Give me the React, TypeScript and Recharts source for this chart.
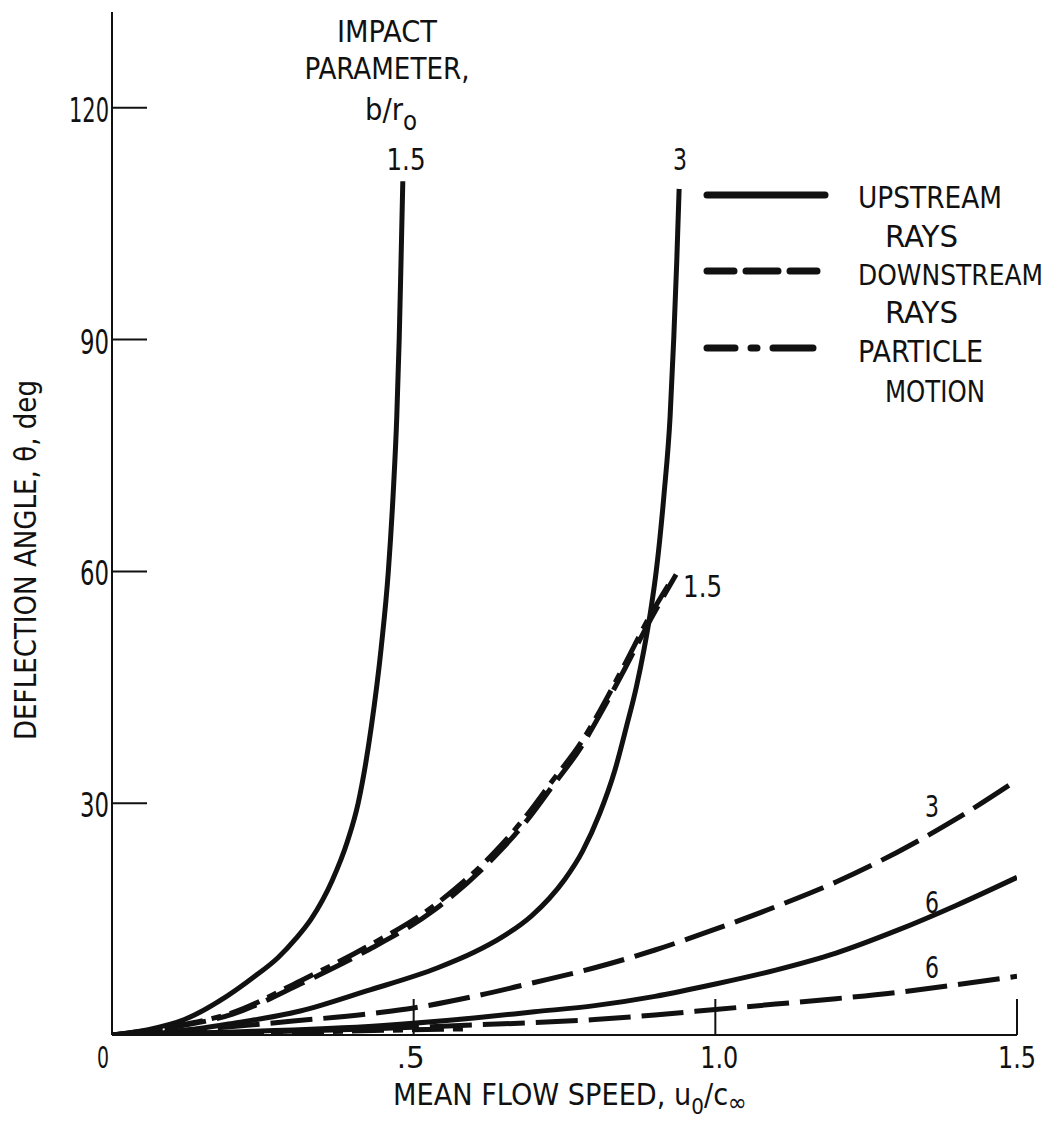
import React from 'react';
import { LineChart, Line, XAxis, YAxis, ReferenceDot, Legend } from 'recharts';

const INK = '#111';
const FONT = "'DejaVu Sans Condensed', 'Liberation Sans Narrow', 'DejaVu Sans', sans-serif";

// Axis ticks
const xTickValues = [0, 0.5, 1.0, 1.5];
const xTickLabels = ['0', '.5', '1.0', '1.5'];
const yTickValues = [30, 60, 90, 120];
const yTickLabels = ['30', '60', '90', '120'];

// Upstream rays (solid)
const upstream15U = [0, 0.06, 0.12, 0.19, 0.235, 0.275, 0.305, 0.33, 0.365, 0.39, 0.408, 0.43, 0.446, 0.458, 0.466, 0.472, 0.476, 0.479, 0.482];
const upstream15T = [0, 0.7, 2, 5, 7.5, 10, 12.5, 15, 20, 25, 30, 40, 50, 60, 70, 80, 90, 100, 110.5];
const upstream3U = [0, 0.1, 0.2, 0.312, 0.422, 0.54, 0.6, 0.645, 0.695, 0.725, 0.75, 0.78, 0.808, 0.834, 0.853, 0.869, 0.882, 0.893, 0.902, 0.915, 0.925, 0.931, 0.936, 0.94];
const upstream3T = [0, 0.4, 1.5, 3.1, 5.7, 8.7, 10.7, 12.6, 15.4, 17.7, 20.1, 23.8, 28.6, 34.4, 40, 45, 50, 55, 60, 70, 80, 90, 100, 109.5];
const upstream6U = [0, 0.2, 0.444, 0.6, 0.7, 0.8, 0.9, 1.0, 1.1, 1.2, 1.3, 1.4, 1.5];
const upstream6T = [0, 0.4, 1.2, 2.2, 3.0, 3.8, 5.0, 6.6, 8.4, 10.6, 13.5, 16.8, 20.4];

// Downstream rays (dashed)
const downstream15U = [0, 0.1, 0.2, 0.312, 0.422, 0.533, 0.643, 0.688, 0.73, 0.777, 0.809, 0.85, 0.89, 0.935];
const downstream15T = [0, 1.0, 2.7, 6.6, 10.9, 16.1, 23.8, 27.8, 32.2, 37.2, 41.5, 47.4, 53.4, 59.6];
const downstream3U = [0, 0.1, 0.2, 0.3, 0.444, 0.5, 0.6, 0.7, 0.8, 0.9, 1.0, 1.1, 1.2, 1.3, 1.4, 1.5];
const downstream3T = [0, 0.5, 1.1, 1.8, 2.9, 3.5, 5.0, 6.8, 8.7, 11.0, 13.7, 16.6, 19.8, 23.6, 28.0, 33.0];
const downstream6U = [0, 0.2, 0.444, 0.6, 0.8, 0.9, 1.0, 1.1, 1.2, 1.3, 1.4, 1.5];
const downstream6T = [0, 0.3, 0.85, 1.3, 2.0, 2.6, 3.3, 4.0, 4.7, 5.5, 6.5, 7.6];

// Particle motion (dash-dot)
const particle15U = [0, 0.1, 0.2, 0.312, 0.422, 0.533, 0.643, 0.688, 0.73, 0.777, 0.809, 0.85, 0.89, 0.925];
const particle15T = [0, 1.1, 2.9, 7.0, 11.4, 16.7, 24.4, 28.5, 32.9, 37.8, 42.0, 48.0, 54.0, 58.6];
const particle3U = [0, 0.15, 0.3, 0.45, 0.59];
const particle3T = [0, 0.15, 0.35, 0.6, 0.8];

// Curve labels (impact parameter b/r0)
const curveLabelText = ['1.5', '3', '1.5', '3', '6', '6'];
const curveLabelU = [0.4873, 0.9415, 0.9465, 1.3476, 1.3476, 1.3476];
const curveLabelT = [112.0, 112.0, 56.7, 28.2, 15.8, 7.35];

const zip = (u: number[], t: number[]) => u.map((v, i) => ({ u: v, t: t[i] }));

const DASH = '42 11';
const DASHDOT = '32 9 10 9';

const series = [
  { key: 'up15', name: 'Upstream rays, b/r0 = 1.5', data: zip(upstream15U, upstream15T), dash: undefined as string | undefined },
  { key: 'up3', name: 'Upstream rays, b/r0 = 3', data: zip(upstream3U, upstream3T), dash: undefined },
  { key: 'up6', name: 'Upstream rays, b/r0 = 6', data: zip(upstream6U, upstream6T), dash: undefined },
  { key: 'dn15', name: 'Downstream rays, b/r0 = 1.5', data: zip(downstream15U, downstream15T), dash: DASH },
  { key: 'dn3', name: 'Downstream rays, b/r0 = 3', data: zip(downstream3U, downstream3T), dash: DASH },
  { key: 'dn6', name: 'Downstream rays, b/r0 = 6', data: zip(downstream6U, downstream6T), dash: DASH },
  { key: 'pm15', name: 'Particle motion, b/r0 = 1.5', data: zip(particle15U, particle15T), dash: DASHDOT },
  { key: 'pm3', name: 'Particle motion, b/r0 = 3', data: zip(particle3U, particle3T), dash: DASHDOT },
];

function Txt(props: any) {
  const { x, y, w, size = 31, anchor = 'start', children, transform } = props;
  return (
    <text
      x={x}
      y={y}
      fontSize={size}
      fontFamily={FONT}
      fill={INK}
      textAnchor={anchor}
      textLength={w}
      lengthAdjust="spacingAndGlyphs"
      transform={transform}
    >
      {children}
    </text>
  );
}

const YTick = (props: any) => {
  const { x, y, payload } = props;
  const i = yTickValues.indexOf(payload.value);
  const label = yTickLabels[i] ?? String(payload.value);
  return (
    <g>
      <line x1={x} x2={x + 35} y1={y} y2={y} stroke={INK} strokeWidth={2} />
      <Txt x={x - 3} y={y + 14} w={label.length === 3 ? 40 : 29} size={34} anchor="end">
        {label}
      </Txt>
    </g>
  );
};

const xLabelShift = [-9, -3, 4, 0];
const xLabelWidth = [12, 28, 38, 38];

const XTick = (props: any) => {
  const { x, y, payload } = props;
  const i = xTickValues.indexOf(payload.value);
  const label = xTickLabels[i] ?? String(payload.value);
  return (
    <g>
      {payload.value !== 0 && <line x1={x} x2={x} y1={y} y2={y - 36} stroke={INK} strokeWidth={2} />}
      <Txt x={x + (xLabelShift[i] ?? 0)} y={y + 33} w={xLabelWidth[i]} size={30} anchor="middle">
        {label}
      </Txt>
    </g>
  );
};

const XTitle = (props: any) => {
  const vb = props.viewBox || { x: 104, y: 1027 };
  const bx = vb.x - 112;
  const by = vb.y - 1035;
  return (
    <text
      x={bx + 393}
      y={by + 1105}
      fontSize={30}
      fontFamily={FONT}
      fill={INK}
      textLength={354}
      lengthAdjust="spacingAndGlyphs"
    >
      MEAN FLOW SPEED, u
      <tspan dy={9} fontSize={22}>0</tspan>
      <tspan dy={-9}>/c</tspan>
      <tspan dy={6} fontSize={25}>∞</tspan>
    </text>
  );
};

const YTitle = (props: any) => {
  const vb = props.viewBox || { x: 0, y: 4 };
  const cx = vb.x + 28;
  const cy = vb.y + 548;
  return (
    <Txt x={cx} y={cy} w={360} anchor="middle" transform={`rotate(-90 ${cx} ${cy})`}>
      DEFLECTION ANGLE, θ, deg
    </Txt>
  );
};

const LegendBox = () => (
  <svg width={1045} height={420} style={{ display: 'block', overflow: 'visible' }}>
    <line x1={699} x2={817} y1={187} y2={187} stroke={INK} strokeWidth={7} strokeLinecap="round" />
    <line x1={699} x2={817} y1={263} y2={263} stroke={INK} strokeWidth={7} strokeLinecap="round" strokeDasharray="27 12 32 12 27" />
    <line x1={699} x2={817} y1={340} y2={340} stroke={INK} strokeWidth={7} strokeLinecap="round" strokeDasharray="28 16 6 16 40" />
    <Txt x={850} y={200} w={144}>UPSTREAM</Txt>
    <Txt x={877} y={239} w={73}>RAYS</Txt>
    <Txt x={850} y={277} w={185} size={29}>DOWNSTREAM</Txt>
    <Txt x={877} y={315} w={73}>RAYS</Txt>
    <Txt x={850} y={354} w={125}>PARTICLE</Txt>
    <Txt x={877} y={394} w={100}>MOTION</Txt>
  </svg>
);

const Annot = (text: string, w: number, anchor: string, dy = 0, size = 31) => (p: any) => (
  <Txt x={p.cx} y={p.cy + dy} w={w} anchor={anchor} size={size}>
    {text}
  </Txt>
);

const BOverR = (p: any) => (
  <text x={p.cx} y={p.cy} fontSize={31} fontFamily={FONT} fill={INK} textLength={52} lengthAdjust="spacingAndGlyphs">
    b/r
    <tspan dy={10} fontSize={26}>o</tspan>
  </text>
);

const labelWidth = (s: string) => (s.length === 3 ? 39 : 14);

export default function App() {
  return (
    <div style={{ width: 1045, height: 1116 }}>
      <LineChart width={1045} height={1116} margin={{ top: 4, right: 36, bottom: 0, left: 0 }}>
        <XAxis
          dataKey="u"
          type="number"
          domain={[0, 1.5]}
          ticks={xTickValues}
          interval={0}
          tickSize={0}
          tickMargin={0}
          tickLine={false}
          axisLine={{ stroke: INK, strokeWidth: 2 }}
          height={89}
          tick={<XTick />}
          label={<XTitle />}
          allowDataOverflow
        />
        <YAxis
          type="number"
          domain={[0, 132.4]}
          ticks={yTickValues}
          interval={0}
          tickSize={0}
          tickMargin={0}
          tickLine={false}
          axisLine={{ stroke: INK, strokeWidth: 2 }}
          width={104}
          tick={<YTick />}
          label={<YTitle />}
          allowDataOverflow
        />
        <Legend
          layout="horizontal"
          verticalAlign="middle"
          align="center"
          content={<LegendBox />}
          wrapperStyle={{ left: 0, top: 0, bottom: 'auto', width: 1045, height: 420, margin: 0, padding: 0, pointerEvents: 'none' }}
        />
        {series.map((s) => (
          <Line
            key={s.key}
            data={s.data}
            dataKey="t"
            name={s.name}
            type="monotone"
            stroke={INK}
            strokeWidth={5}
            strokeDasharray={s.dash}
            dot={false}
            activeDot={false}
            isAnimationActive={false}
            legendType="none"
          />
        ))}
        {/* Impact parameter heading */}
        <ReferenceDot x={0.4558} y={128.55} r={0} ifOverflow="visible" shape={Annot('IMPACT', 100, 'middle')} />
        <ReferenceDot x={0.4558} y={123.76} r={0} ifOverflow="visible" shape={Annot('PARAMETER,', 165, 'middle')} />
        <ReferenceDot x={0.4194} y={118.4} r={0} ifOverflow="visible" shape={BOverR} />
        {curveLabelText.map((s, i) => (
          <ReferenceDot
            key={'lab' + i}
            x={curveLabelU[i]}
            y={curveLabelT[i]}
            r={0}
            ifOverflow="visible"
            shape={Annot(s, labelWidth(s), i < 2 ? 'middle' : 'start')}
          />
        ))}
      </LineChart>
    </div>
  );
}
